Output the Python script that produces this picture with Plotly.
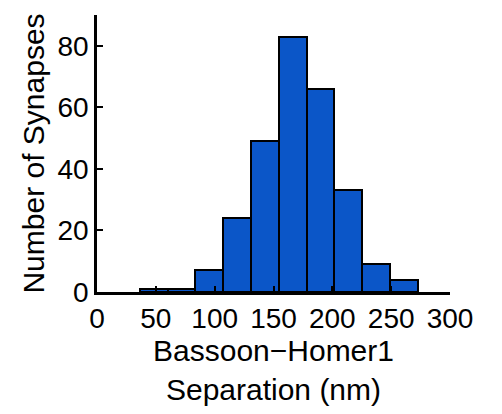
import plotly.graph_objects as go

# Histogram data
bin_start = 36.5          # nm, left edge of first bin
bin_width = 23.6          # nm
counts = [1, 1, 7, 24, 49, 83, 66, 33, 9, 4]
x_ticks = [0, 50, 100, 150, 200, 250, 300]
y_ticks = [0, 20, 40, 60, 80]

centers = [bin_start + bin_width * (i + 0.5) for i in range(len(counts))]

fig = go.Figure(go.Bar(
    x=centers, y=counts, width=[bin_width] * len(counts),
    marker=dict(color="#0B56C8", line=dict(color="black", width=2)),
))

font = "Liberation Sans, Arial, sans-serif"
# page body has an 8px default margin, so the figure is sized/placed to compensate
fig.update_layout(
    width=494, height=406,
    margin=dict(l=89, r=52, t=7, b=122),
    paper_bgcolor="white", plot_bgcolor="white",
    showlegend=False,
    bargap=0,
    font=dict(family=font, color="black"),
)
fig.update_xaxes(
    range=[0, 300], tickvals=x_ticks, ticktext=[str(v) for v in x_ticks],
    automargin=False,
    showgrid=False, zeroline=False,
    showline=True, linecolor="black", linewidth=2.5,
    ticks="inside", ticklen=6, tickwidth=2, tickcolor="black",
    tickfont=dict(size=28),
    title=dict(text="Bassoon\u2212Homer1<br>Separation (nm)", font=dict(size=30), standoff=6),
)
fig.update_yaxes(
    range=[0, 90], tickvals=y_ticks,
    automargin=False,
    showgrid=False, zeroline=False,
    showline=True, linecolor="black", linewidth=2.5,
    ticks="inside", ticklen=6, tickwidth=2, tickcolor="black",
    tickfont=dict(size=28),
    title=dict(text="Number of Synapses", font=dict(size=30), standoff=4),
)

fig.write_html("out.html")
